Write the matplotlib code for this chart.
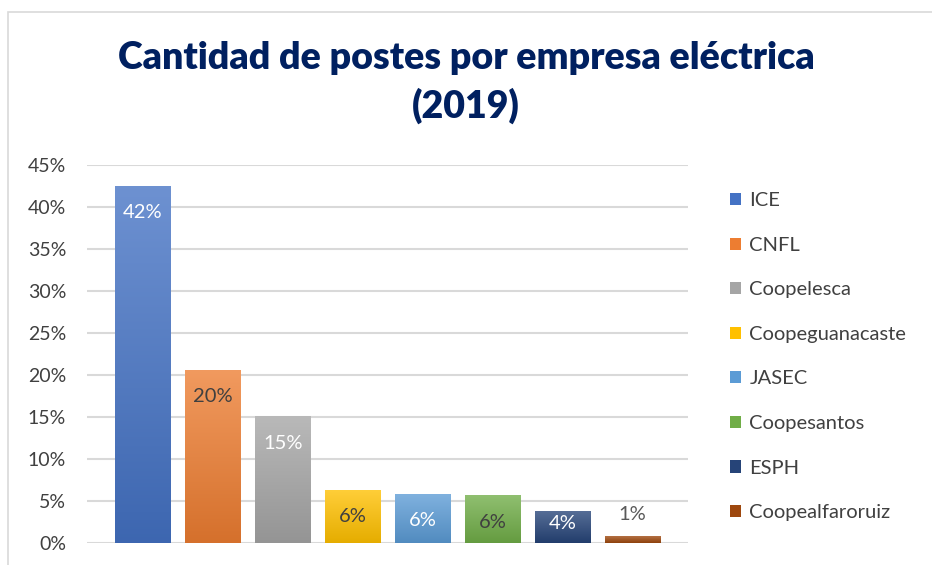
import numpy as np
import matplotlib.pyplot as plt
import matplotlib.colors as mcolors
from matplotlib.patches import Patch, Rectangle

plt.rcParams['font.family'] = ['Lato', 'DejaVu Sans']

# data
empresas = ['ICE', 'CNFL', 'Coopelesca', 'Coopeguanacaste', 'JASEC',
            'Coopesantos', 'ESPH', 'Coopealfaroruiz']
porcentajes = [0.424, 0.205, 0.150, 0.062, 0.058, 0.056, 0.037, 0.0075]
etiquetas = ['42%', '20%', '15%', '6%', '6%', '6%', '4%', '1%']
colores = ['#4472C4', '#ED7D31', '#A5A5A5', '#FFC000', '#5B9BD5',
           '#70AD47', '#264478', '#9E480E']
color_etiqueta = ['white', '#404040', 'white', '#404040', 'white',
                  '#404040', 'white', '#595959']

W, H = 932, 565
fig = plt.figure(figsize=(W / 100, H / 100), dpi=100)
ax = fig.add_axes([87 / W, 1 - 543 / H, (688 - 87) / W, (543 - 165) / H])

# chart frame
fig.patches.append(Rectangle((8 / W, -0.1), 1.2, 1 - 12 / H + 0.1,
                             transform=fig.transFigure, fill=False,
                             edgecolor='#D9D9D9', linewidth=1.2))

ancho = 0.8
x = np.arange(len(empresas))

def gradiente(c):
    base = np.array(mcolors.to_rgb(c))
    claro = base + (1 - base) * 0.22
    oscuro = base * 0.9
    t = np.linspace(0, 1, 64)[:, None]
    return claro[None, :] * (1 - t) + oscuro[None, :] * t

for i, (v, c) in enumerate(zip(porcentajes, colores)):
    img = gradiente(c)[:, None, :]
    ax.imshow(img, extent=(i - ancho / 2, i + ancho / 2, 0, v),
              aspect='auto', origin='upper', zorder=3, interpolation='bilinear')
    if v > 0.02:
        ypos = max(v - 0.031, 0.023)
    else:
        ypos = v + 0.027
    ax.text(i, ypos, etiquetas[i], ha='center', va='center',
            fontsize=14.5, color=color_etiqueta[i], zorder=4)

ax.set_xlim(-0.8, len(empresas) - 1 + 0.79)
ax.set_ylim(0, 0.45)
ax.set_yticks(np.arange(0, 0.451, 0.05))
ax.set_yticklabels([f'{int(round(t * 100))}%' for t in np.arange(0, 0.451, 0.05)])
ax.set_xticks([])
ax.tick_params(axis='y', length=0, labelsize=14, labelcolor='#404040', pad=15)
ax.grid(axis='y', color='#D9D9D9', linewidth=1.5, zorder=0)
for s in ax.spines.values():
    s.set_visible(False)

fig.text(0.5, 1 - 58 / H, 'Cantidad de postes por empresa eléctrica',
         ha='center', va='center', fontsize=27, fontweight='heavy', color='#002060')
fig.text(0.5, 1 - 106 / H, '(2019)',
         ha='center', va='center', fontsize=27, fontweight='heavy', color='#002060')

handles = [Patch(facecolor=c, edgecolor='none') for c in colores]
fig.legend(handles, empresas, loc='upper left', bbox_to_anchor=(712 / W, 1 - 174 / H),
           frameon=False, fontsize=14.5, labelcolor='#404040', handlelength=0.55,
           handleheight=0.55, handletextpad=0.4, labelspacing=1.37)

fig.savefig('out.png', dpi=100)
